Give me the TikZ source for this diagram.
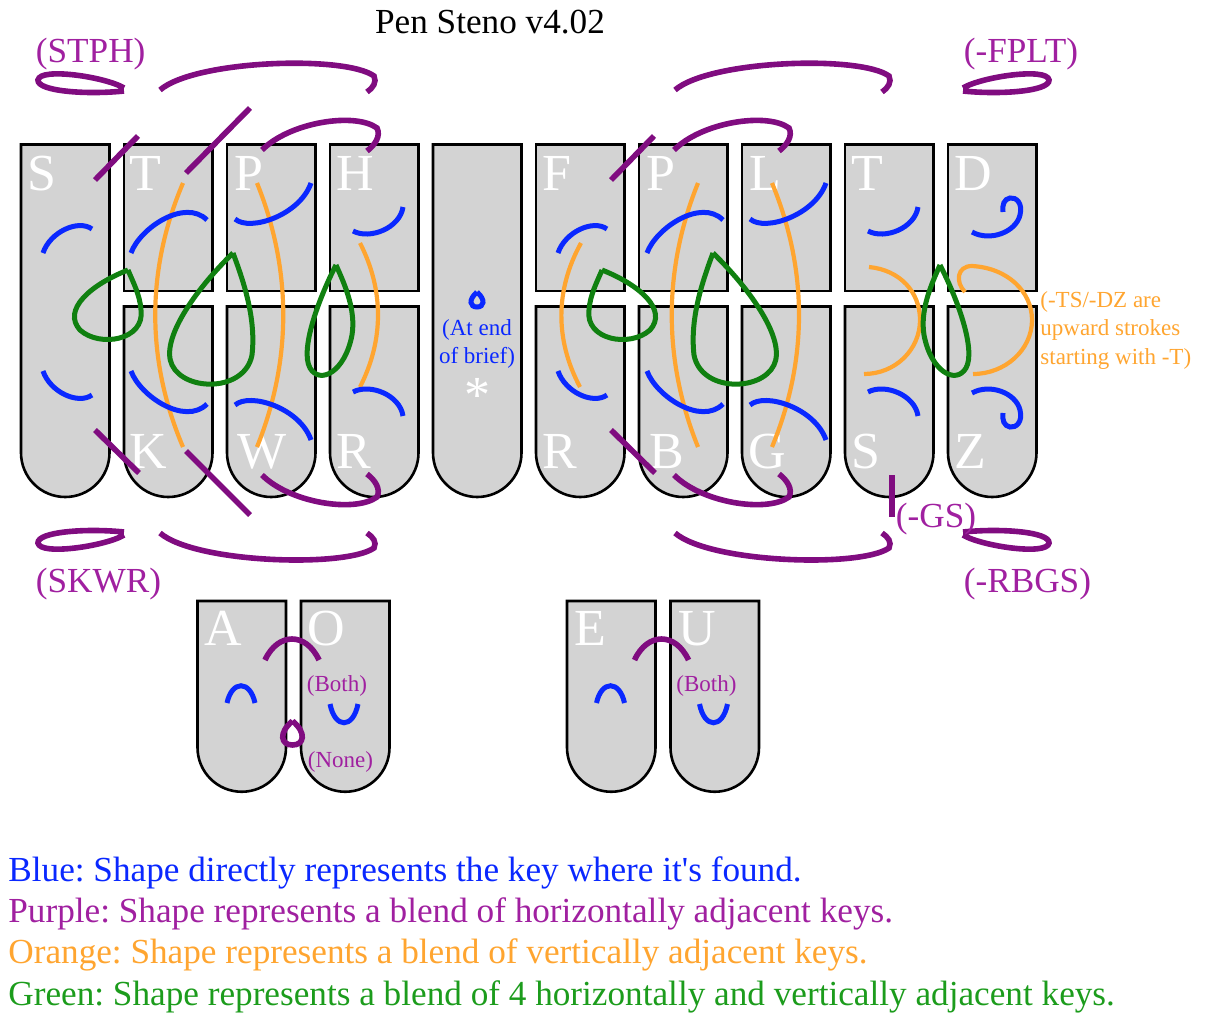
\documentclass[tikz,border=0pt]{standalone}
\usepackage{fontspec}
\setmainfont{Liberation Serif}[Ligatures=TeXOff]
\frenchspacing
\definecolor{keygray}{HTML}{D3D3D3}
\definecolor{strokeblue}{HTML}{0A28FF}
\definecolor{strokepurple}{HTML}{800C80}
\definecolor{strokeorange}{HTML}{FFA530}
\definecolor{strokegreen}{HTML}{108010}
\definecolor{textpurple}{HTML}{A020A0}
\definecolor{textgreen}{HTML}{1C9C1C}
\tikzset{
  keycap/.style={draw=black, line width=1.3pt, fill=keygray},
  keyletter/.style={text=white, inner sep=0pt, anchor=base west,
    font=\fontsize{26}{26}\selectfont},
  bigtext/.style={inner sep=0pt, anchor=base west,
    font=\fontsize{17.6}{20}\selectfont},
  smalltext/.style={inner sep=0pt, font=\fontsize{11.5}{14.25}\selectfont},
  bluestroke/.style={draw=strokeblue, line width=2.5pt},
  purplestroke/.style={draw=strokepurple, line width=2.8pt},
  orangestroke/.style={draw=strokeorange, line width=2.1pt},
  greenstroke/.style={draw=strokegreen, line width=2.5pt}
}
\begin{document}
\begin{tikzpicture}[x=0.5pt,y=-0.5pt]
      \useasboundingbox (0,0) rectangle (1216,1034);
      \draw[keycap] (21,144.5) -- ++(0,308.25) arc (180:0:44.25) -- ++(0,-308.25) -- cycle;
      \draw[keycap] (124,144.5) rectangle ++(88.5,146.5);
      \draw[keycap] (227,144.5) rectangle ++(88.5,146.5);
      \draw[keycap] (330,144.5) rectangle ++(88.5,146.5);
      \draw[keycap] (433,144.5) -- ++(0,308.25) arc (180:0:44.25) -- ++(0,-308.25) -- cycle;
      \draw[keycap] (536,144.5) rectangle ++(88.5,146.5);
      \draw[keycap] (639,144.5) rectangle ++(88.5,146.5);
      \draw[keycap] (742,144.5) rectangle ++(88.5,146.5);
      \draw[keycap] (845,144.5) rectangle ++(88.5,146.5);
      \draw[keycap] (948,144.5) rectangle ++(88.5,146.5);
      \draw[keycap] (124,306.5) -- ++(0,146.25) arc (180:0:44.25) -- ++(0,-146.25) -- cycle;
      \draw[keycap] (227,306.5) -- ++(0,146.25) arc (180:0:44.25) -- ++(0,-146.25) -- cycle;
      \draw[keycap] (330,306.5) -- ++(0,146.25) arc (180:0:44.25) -- ++(0,-146.25) -- cycle;
      \draw[keycap] (536,306.5) -- ++(0,146.25) arc (180:0:44.25) -- ++(0,-146.25) -- cycle;
      \draw[keycap] (639,306.5) -- ++(0,146.25) arc (180:0:44.25) -- ++(0,-146.25) -- cycle;
      \draw[keycap] (742,306.5) -- ++(0,146.25) arc (180:0:44.25) -- ++(0,-146.25) -- cycle;
      \draw[keycap] (845,306.5) -- ++(0,146.25) arc (180:0:44.25) -- ++(0,-146.25) -- cycle;
      \draw[keycap] (948,306.5) -- ++(0,146.25) arc (180:0:44.25) -- ++(0,-146.25) -- cycle;
      \draw[keycap] (197.5,601) -- ++(0,146.5) arc (180:0:44.25) -- ++(0,-146.5) -- cycle;
      \draw[keycap] (301,601) -- ++(0,146.5) arc (180:0:44.25) -- ++(0,-146.5) -- cycle;
      \draw[keycap] (567,601) -- ++(0,146.5) arc (180:0:44.25) -- ++(0,-146.5) -- cycle;
      \draw[keycap] (670.5,601) -- ++(0,146.5) arc (180:0:44.25) -- ++(0,-146.5) -- cycle;

      \node (lS) [keyletter] at (27,190) {S};
      \node (lT) [keyletter] at (129,190) {T};
      \node (lP) [keyletter] at (234,190) {P};
      \node (lH) [keyletter] at (336,190) {H};
      \node (rF) [keyletter] at (542,190) {F};
      \node (rP) [keyletter] at (646,190) {P};
      \node (rL) [keyletter] at (749,190) {L};
      \node (rT) [keyletter] at (851,190) {T};
      \node (rD) [keyletter] at (954,190) {D};
      \node (lK) [keyletter] at (129,468) {K};
      \node (lW) [keyletter] at (237.5,468) {W};
      \node (lR) [keyletter] at (336,468) {R};
      \node (rR) [keyletter] at (542,468) {R};
      \node (rB) [keyletter] at (649,468) {B};
      \node (rG) [keyletter] at (748,468) {G};
      \node (rS) [keyletter] at (851,468) {S};
      \node (rZ) [keyletter] at (954.5,468) {Z};
      \node (vA) [keyletter] at (204.5,645) {A};
      \node (vO) [keyletter] at (307,645) {O};
      \node (vE) [keyletter] at (574,645) {E};
      \node (vU) [keyletter] at (678.5,645) {U};
      \node (star) [keyletter, anchor=base] at (477,412) {*};

      \draw[orangestroke] (183,183) .. controls (146,270) and (146,360) .. (183,447);
      \draw[orangestroke] (257,183) .. controls (292,270) and (292,360) .. (257,447);
      \draw[orangestroke] (360,243) .. controls (384,290) and (384,340) .. (360,387);
      \draw[orangestroke] (581,243) .. controls (555,290) and (555,340) .. (580,387);
      \draw[orangestroke] (698,183) .. controls (663,270) and (663,360) .. (698,447);
      \draw[orangestroke] (772,183) .. controls (808,270) and (808,360) .. (772,447);
      \draw[orangestroke] (869,267) .. controls (900,270) and (920,292) .. (920,320)
           .. controls (920,350) and (895,374) .. (864,374);
      \draw[orangestroke] (965,292) .. controls (955,282) and (957,266) .. (972,266)
           .. controls (1008,268) and (1032,292) .. (1032,320)
           .. controls (1032,350) and (1005,374) .. (973,374);

      \draw[greenstroke] (128,270) .. controls (90,285) and (62,310) .. (80,330)
           .. controls (100,348) and (145,340) .. (141,310) .. controls (140,295) and (133,282) .. (128,270);
      \draw[greenstroke] (233,253) .. controls (195,290) and (160,340) .. (172,365)
           .. controls (185,392) and (245,392) .. (252,355) .. controls (256,320) and (245,285) .. (233,253);
      \draw[greenstroke] (336,265) .. controls (318,300) and (300,350) .. (310,368)
           .. controls (320,385) and (345,372) .. (352,335) .. controls (356,310) and (345,285) .. (336,265);
      \draw[greenstroke] (602,270) .. controls (640,285) and (668,310) .. (650,330)
           .. controls (630,348) and (585,340) .. (589,310) .. controls (590,295) and (597,282) .. (602,270);
      \draw[greenstroke] (713,253) .. controls (751,290) and (786,340) .. (774,365)
           .. controls (761,392) and (701,392) .. (694,355) .. controls (690,320) and (701,285) .. (713,253);
      \draw[greenstroke] (940,265) .. controls (958,300) and (976,350) .. (966,368)
           .. controls (956,385) and (931,372) .. (924,335) .. controls (920,310) and (931,285) .. (940,265);

      \draw[bluestroke] (43,253) .. controls (50,232) and (78,219) .. (92,229);
      \draw[bluestroke] (43,371) .. controls (50,392) and (78,405) .. (92,395);
      \draw[bluestroke] (131,253) .. controls (140,228) and (185,198) .. (207,220);
      \draw[bluestroke] (131,371) .. controls (140,396) and (185,426) .. (207,404);
      \draw[bluestroke] (235,219) .. controls (250,232) and (300,215) .. (311,183);
      \draw[bluestroke] (235,405) .. controls (250,392) and (300,408) .. (311,440);
      \draw[bluestroke] (353,231) .. controls (370,240) and (400,228) .. (403,207);
      \draw[bluestroke] (353,392) .. controls (370,383) and (400,395) .. (403,416);
      \draw[bluestroke] (558,253) .. controls (565,232) and (593,219) .. (607,229);
      \draw[bluestroke] (558,371) .. controls (565,392) and (593,405) .. (607,395);
      \draw[bluestroke] (647,253) .. controls (656,228) and (701,198) .. (723,220);
      \draw[bluestroke] (647,371) .. controls (656,396) and (701,426) .. (723,404);
      \draw[bluestroke] (750,219) .. controls (765,232) and (815,215) .. (826,183);
      \draw[bluestroke] (750,405) .. controls (765,392) and (815,408) .. (826,440);
      \draw[bluestroke] (868,231) .. controls (885,240) and (915,228) .. (918,207);
      \draw[bluestroke] (868,392) .. controls (885,383) and (915,395) .. (918,416);
      \draw[bluestroke] (972,232) .. controls (990,242) and (1016,232) .. (1020,215)
           .. controls (1023,203) and (1016,197) .. (1010,198) .. controls (1004,199) and (1002,205) .. (1003,212);
      \draw[bluestroke] (972,393) .. controls (990,383) and (1016,393) .. (1020,410)
           .. controls (1023,422) and (1016,428) .. (1010,427) .. controls (1004,426) and (1002,420) .. (1003,413);
      \draw[bluestroke] (477,292) .. controls (468,300) and (470,307) .. (477,307)
           .. controls (484,307) and (486,300) .. (477,292);
      \draw[bluestroke] (227,703) .. controls (232,680) and (250,680) .. (255,703);
      \draw[bluestroke] (330,704) .. controls (335,729) and (353,729) .. (358,704);
      \draw[bluestroke] (596.5,703) .. controls (601.5,680) and (619.5,680) .. (624.5,703);
      \draw[bluestroke] (699.5,704) .. controls (704.5,729) and (722.5,729) .. (727.5,704);

      \draw[purplestroke] (124,88) .. controls (106,77) and (40,67) .. (38,80)
           .. controls (37,91) and (85,95) .. (124,91);
      \draw[purplestroke] (160,90) .. controls (195,60) and (345,55) .. (374,76)
           .. controls (377,82) and (373,88) .. (367,92);
      \draw[purplestroke] (95,180) -- (138,136);
      \draw[purplestroke] (186,173) -- (250,108);
      \draw[purplestroke] (262,150) .. controls (290,122) and (355,112) .. (377,128)
           .. controls (381,136) and (375,145) .. (367,151);
      \draw[purplestroke] (95,430) -- (139,473);
      \draw[purplestroke] (186,451) -- (250,515);
      \draw[purplestroke] (262,475) .. controls (290,503) and (355,513) .. (377,497)
           .. controls (381,489) and (375,480) .. (367,474);
      \draw[purplestroke] (160,533) .. controls (195,563) and (345,568) .. (374,548)
           .. controls (377,542) and (373,537) .. (367,533);
      \draw[purplestroke] (124,535) .. controls (106,546) and (40,556) .. (38,543)
           .. controls (37,532) and (85,528) .. (124,532);
      \draw[purplestroke] (675,90) .. controls (710,60) and (860,55) .. (889,76)
           .. controls (892,82) and (888,88) .. (882,92);
      \draw[purplestroke] (611,180) -- (654,136);
      \draw[purplestroke] (674,150) .. controls (702,122) and (767,112) .. (789,128)
           .. controls (793,136) and (787,145) .. (779,151);
      \draw[purplestroke] (611,430) -- (655,473);
      \draw[purplestroke] (674,475) .. controls (702,503) and (767,513) .. (789,497)
           .. controls (793,489) and (787,480) .. (779,474);
      \draw[purplestroke] (675,533) .. controls (710,563) and (860,568) .. (889,548)
           .. controls (892,542) and (888,537) .. (882,533);
      \draw[purplestroke] (963,88) .. controls (981,77) and (1047,67) .. (1049,80)
           .. controls (1050,91) and (1002,95) .. (963,91);
      \draw[purplestroke] (963,535) .. controls (981,546) and (1047,556) .. (1049,543)
           .. controls (1050,532) and (1002,528) .. (963,532);
      \draw[purplestroke] (892,475) -- (892,517);
      \draw[purplestroke] (265,660) .. controls (278,632) and (306,632) .. (319,660);
      \draw[purplestroke] (634.5,660) .. controls (647.5,632) and (675.5,632) .. (688.5,660);
      \draw[purplestroke] (292.5,721) .. controls (278,733) and (281,745) .. (292.5,745)
           .. controls (304,745) and (307,733) .. (292.5,721);

      \node (title) [bigtext, anchor=base] at (490,33) {Pen Steno v4.02};
      \node (stph) [bigtext, text=textpurple] at (35.5,62) {(STPH)};
      \node (skwr) [bigtext, text=textpurple] at (35.5,592) {(SKWR)};
      \node (fplt) [bigtext, text=textpurple] at (963.5,62) {(-FPLT)};
      \node (rbgs) [bigtext, text=textpurple] at (963.5,592) {(-RBGS)};
      \node (gs) [bigtext, text=textpurple] at (895.5,527) {(-GS)};
      \node (brief) [smalltext, text=strokeblue, align=center] at (477,344) {(At end\\of brief)};
      \node (tsdz) [smalltext, text=strokeorange, align=left, anchor=west] at (1040,330)
           {(-TS/-DZ are\\upward strokes\\starting with -T)};
      \node (bothA) [smalltext, text=textpurple, anchor=base west] at (306.5,691) {(Both)};
      \node (noneA) [smalltext, text=textpurple, anchor=base west] at (307.5,767) {(None)};
      \node (bothE) [smalltext, text=textpurple, anchor=base west] at (676,691) {(Both)};

      \node (legblue) [bigtext, text=strokeblue] at (8,881)
           {Blue: Shape directly represents the key where it's found.};
      \node (legpurple) [bigtext, text=textpurple] at (8,922)
           {Purple: Shape represents a blend of horizontally adjacent keys.};
      \node (legorange) [bigtext, text=strokeorange] at (8,963)
           {Orange: Shape represents a blend of vertically adjacent keys.};
      \node (leggreen) [bigtext, text=textgreen] at (8,1005)
           {Green: Shape represents a blend of 4 horizontally and vertically adjacent keys.};
    \end{tikzpicture}
\end{document}
